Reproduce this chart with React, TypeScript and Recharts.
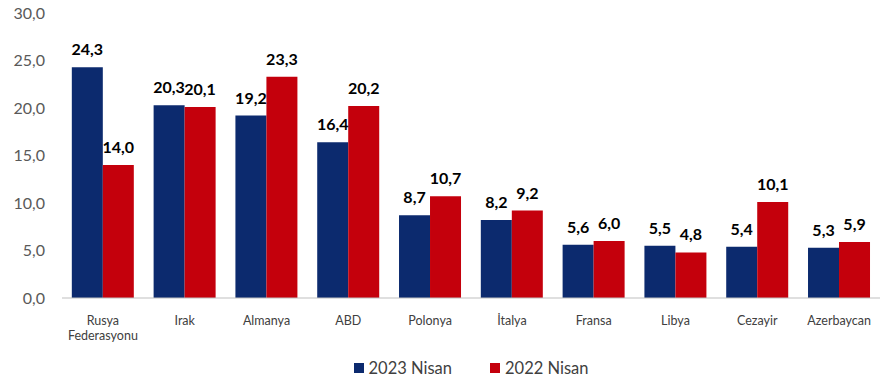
import React from "react";
import { BarChart, Bar, XAxis, YAxis, LabelList, Legend } from "recharts";

const categories = ["Rusya Federasyonu", "Irak", "Almanya", "ABD", "Polonya", "İtalya", "Fransa", "Libya", "Cezayir", "Azerbaycan"];
const values2023 = [24.3, 20.3, 19.2, 16.4, 8.7, 8.2, 5.6, 5.5, 5.4, 5.3];
const values2022 = [14.0, 20.1, 23.3, 20.2, 10.7, 9.2, 6.0, 4.8, 10.1, 5.9];
const yTicks = [0, 5, 10, 15, 20, 25, 30];
const seriesNames = ["2023 Nisan", "2022 Nisan"];

const BLUE = "#0c2a6e";
const RED = "#c4000c";
const FONT = "Lato, 'Open Sans', sans-serif";

const data = categories.map((c, i) => ({ name: c, a: values2023[i], b: values2022[i] }));

const fmt = (v: number) => v.toFixed(1).replace(".", ",");

const CatTick = (props: any) => {
  const { x, y, payload } = props;
  const words: string[] = payload.value === "Rusya Federasyonu" ? ["Rusya", "Federasyonu"] : [payload.value];
  return (
    <g transform={`translate(${x},${y})`}>
      {words.map((w, i) => (
        <text key={i} x={0} y={i * 15} dy={19} textAnchor="middle" fill="#404040" fontSize={12.5} fontFamily={FONT}>
          {w}
        </text>
      ))}
    </g>
  );
};

const LegendContent = () => (
  <div style={{ display: "flex", justifyContent: "center", fontFamily: FONT, fontSize: 16.5, color: "#404040", paddingLeft: 62, paddingTop: 8 }}>
    {seriesNames.map((n, i) => (
      <div key={n} style={{ display: "flex", alignItems: "center", marginRight: i === 0 ? 38 : 0 }}>
        <span style={{ display: "inline-block", width: 10, height: 10, background: i === 0 ? BLUE : RED, marginRight: 5 }} />
        <span>{n}</span>
      </div>
    ))}
  </div>
);

export default function App() {
  return (
    <div style={{ position: "absolute", left: 0, top: 0, width: 887, height: 386, background: "#fff" }}>
      <BarChart width={887} height={386} data={data} margin={{ top: 13, right: 7, left: 0, bottom: 6 }} barCategoryGap="12%" barGap={0}>
        <XAxis dataKey="name" tick={<CatTick />} tickLine={false} axisLine={{ stroke: "#bfbfbf" }} interval={0} height={52} />
        <YAxis
          domain={[0, 30]}
          ticks={yTicks}
          tickFormatter={fmt}
          axisLine={false}
          tickLine={false}
          tickSize={0}
          tickMargin={17}
          width={62}
          tick={{ fill: "#595959", fontSize: 16, fontFamily: FONT }}
        />
        <Legend verticalAlign="bottom" height={30} content={<LegendContent />} />
        <Bar dataKey="a" name={seriesNames[0]} fill={BLUE} isAnimationActive={false}>
          <LabelList dataKey="a" position="top" offset={12} formatter={(v: any) => fmt(Number(v))} fill="#000" fontSize={16} fontWeight="bold" fontFamily={FONT} />
        </Bar>
        <Bar dataKey="b" name={seriesNames[1]} fill={RED} isAnimationActive={false}>
          <LabelList dataKey="b" position="top" offset={12} formatter={(v: any) => fmt(Number(v))} fill="#000" fontSize={16} fontWeight="bold" fontFamily={FONT} />
        </Bar>
      </BarChart>
    </div>
  );
}
